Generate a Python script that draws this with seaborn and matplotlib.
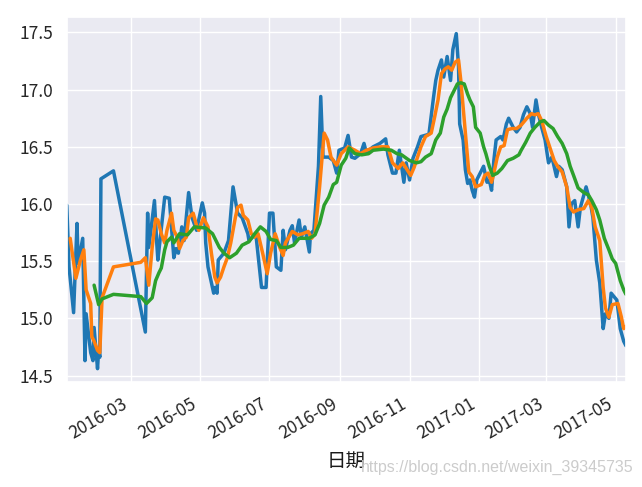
import pandas as pd
import matplotlib
matplotlib.use("Agg")
import matplotlib.pyplot as plt
import matplotlib.dates as mdates
import seaborn as sns

# 收盘价 (blue)
close_dates = [
    "2016-01-05", "2016-01-07", "2016-01-11", "2016-01-14", "2016-01-15", "2016-01-19", "2016-01-21",
    "2016-01-22", "2016-01-26", "2016-01-28", "2016-01-29",
    "2016-02-01", "2016-02-02", "2016-02-03", "2016-02-04", "2016-02-15",
    "2016-03-14", "2016-03-16", "2016-03-17", "2016-03-22", "2016-03-24", "2016-03-25", "2016-03-31",
    "2016-04-04", "2016-04-08", "2016-04-10", "2016-04-12", "2016-04-15", "2016-04-17", "2016-04-21",
    "2016-04-24", "2016-04-28",
    "2016-05-03", "2016-05-05", "2016-05-06", "2016-05-08", "2016-05-13", "2016-05-14", "2016-05-16",
    "2016-05-17", "2016-05-22", "2016-05-26", "2016-05-30",
    "2016-06-03", "2016-06-07", "2016-06-12", "2016-06-13", "2016-06-16", "2016-06-19", "2016-06-24",
    "2016-06-28",
    "2016-07-01", "2016-07-04", "2016-07-07", "2016-07-11", "2016-07-13", "2016-07-15", "2016-07-19",
    "2016-07-21", "2016-07-23", "2016-07-27", "2016-07-29",
    "2016-08-01", "2016-08-05", "2016-08-06", "2016-08-09", "2016-08-13", "2016-08-15", "2016-08-17",
    "2016-08-22", "2016-08-26", "2016-08-29", "2016-08-31",
    "2016-09-05", "2016-09-08", "2016-09-11", "2016-09-14", "2016-09-19", "2016-09-22", "2016-09-24",
    "2016-09-30",
    "2016-10-06", "2016-10-11", "2016-10-13", "2016-10-17", "2016-10-20", "2016-10-23", "2016-10-27",
    "2016-10-29",
    "2016-11-01", "2016-11-04", "2016-11-08", "2016-11-11", "2016-11-18", "2016-11-22", "2016-11-24",
    "2016-11-26", "2016-11-29",
    "2016-12-01", "2016-12-04", "2016-12-07", "2016-12-09", "2016-12-12", "2016-12-14", "2016-12-15",
    "2016-12-18", "2016-12-20", "2016-12-22", "2016-12-24", "2016-12-26", "2016-12-28", "2016-12-30",
    "2017-01-05", "2017-01-08", "2017-01-10", "2017-01-12", "2017-01-14", "2017-01-16", "2017-01-20",
    "2017-01-22", "2017-01-25", "2017-01-27", "2017-01-31",
    "2017-02-03", "2017-02-06", "2017-02-09", "2017-02-12", "2017-02-15", "2017-02-17", "2017-02-20",
    "2017-02-22", "2017-02-25", "2017-02-28",
    "2017-03-03", "2017-03-06", "2017-03-10", "2017-03-12", "2017-03-15", "2017-03-19", "2017-03-21",
    "2017-03-23", "2017-03-26", "2017-03-29", "2017-03-31",
    "2017-04-05", "2017-04-09", "2017-04-11", "2017-04-14", "2017-04-17", "2017-04-20", "2017-04-22",
    "2017-04-25", "2017-04-27",
    "2017-05-02", "2017-05-05", "2017-05-08", "2017-05-10",
]
close_vals = [
    15.99, 15.45, 15.05, 15.83, 15.48, 15.70, 14.63, 15.04, 14.70, 14.63, 14.92,
    14.56, 14.72, 14.66, 16.22, 16.29,
    14.88, 15.92, 15.62, 16.03, 15.66, 15.51, 16.06,
    16.05, 15.53, 15.61, 15.57, 15.80, 15.68, 16.10, 15.88, 15.77,
    16.01, 15.92, 15.66, 15.45, 15.22, 15.27, 15.22, 15.51, 15.57, 15.68, 16.15,
    15.92, 15.88, 15.74, 15.68, 15.71, 15.74, 15.27, 15.27,
    15.92, 15.92, 15.45, 15.42, 15.77, 15.60, 15.77, 15.81, 15.66, 15.86, 15.71,
    15.80, 15.58, 15.74, 15.77, 16.33, 16.94, 16.41, 16.41, 16.38, 16.27, 16.47,
    16.49, 16.60, 16.41, 16.40, 16.44, 16.53, 16.45, 16.50,
    16.53, 16.57, 16.43, 16.27, 16.27, 16.47, 16.19, 16.36,
    16.21, 16.40, 16.50, 16.59, 16.61, 16.93, 17.08, 17.17, 17.26,
    17.11, 17.29, 17.08, 17.35, 17.49, 17.20, 16.70, 16.56, 16.30, 16.18, 16.21, 16.12, 16.06, 16.21,
    16.33, 16.19, 16.21, 16.12, 16.38, 16.56, 16.59, 16.56, 16.70, 16.75, 16.67,
    16.63, 16.67, 16.78, 16.85, 16.79, 16.67, 16.91, 16.79, 16.67, 16.56,
    16.36, 16.41, 16.24, 16.33, 16.30, 16.15, 15.80, 16.00, 16.03, 15.80, 15.97,
    16.15, 16.00, 15.88, 15.51, 15.31, 14.91, 15.04, 15.00, 15.22,
    15.16, 14.91, 14.80, 14.76,
]

# 5日均线 (orange)
ma5_dates = [
    "2016-01-08", "2016-01-13", "2016-01-17", "2016-01-20", "2016-01-22", "2016-01-26", "2016-01-27",
    "2016-01-29",
    "2016-02-01", "2016-02-03", "2016-02-05", "2016-02-15",
    "2016-03-10", "2016-03-14", "2016-03-17", "2016-03-20", "2016-03-23", "2016-03-25", "2016-03-28",
    "2016-03-31",
    "2016-04-02", "2016-04-06", "2016-04-08", "2016-04-11", "2016-04-13", "2016-04-16", "2016-04-19",
    "2016-04-21", "2016-04-25", "2016-04-28", "2016-04-30",
    "2016-05-04", "2016-05-08", "2016-05-11", "2016-05-14", "2016-05-16", "2016-05-19", "2016-05-22",
    "2016-05-25", "2016-05-28",
    "2016-06-01", "2016-06-03", "2016-06-06", "2016-06-08", "2016-06-12", "2016-06-15", "2016-06-18",
    "2016-06-21", "2016-06-25", "2016-06-29",
    "2016-07-02", "2016-07-06", "2016-07-10", "2016-07-13", "2016-07-15", "2016-07-21", "2016-07-26",
    "2016-07-30",
    "2016-08-04", "2016-08-07", "2016-08-10", "2016-08-14", "2016-08-18", "2016-08-21", "2016-08-24",
    "2016-08-29",
    "2016-09-02", "2016-09-08", "2016-09-14", "2016-09-19", "2016-09-24", "2016-09-30",
    "2016-10-07", "2016-10-13", "2016-10-17", "2016-10-22", "2016-10-26",
    "2016-11-02", "2016-11-05", "2016-11-08", "2016-11-11", "2016-11-15", "2016-11-20", "2016-11-23",
    "2016-11-26", "2016-11-29",
    "2016-12-02", "2016-12-05", "2016-12-08", "2016-12-11", "2016-12-14", "2016-12-16", "2016-12-18",
    "2016-12-21", "2016-12-23", "2016-12-26", "2016-12-29",
    "2017-01-03", "2017-01-06", "2017-01-09", "2017-01-12", "2017-01-14", "2017-01-17", "2017-01-20",
    "2017-01-23", "2017-01-26", "2017-01-30",
    "2017-02-03", "2017-02-07", "2017-02-12", "2017-02-16", "2017-02-19", "2017-02-22", "2017-02-25",
    "2017-03-01", "2017-03-05", "2017-03-08", "2017-03-11", "2017-03-15", "2017-03-19", "2017-03-22",
    "2017-03-25", "2017-03-29",
    "2017-04-03", "2017-04-07", "2017-04-10", "2017-04-13", "2017-04-17", "2017-04-20", "2017-04-22",
    "2017-04-25", "2017-04-28",
    "2017-05-03", "2017-05-06", "2017-05-08", "2017-05-10",
]
ma5_vals = [
    15.70, 15.35, 15.51, 15.60, 15.25, 15.13, 14.84, 14.80,
    14.72, 14.70, 15.18, 15.45,
    15.49, 15.53, 15.29, 15.62, 15.87, 15.86, 15.74, 15.66,
    15.77, 15.92, 15.77, 15.71, 15.61, 15.68, 15.71, 15.88, 15.92, 15.81, 15.77,
    15.88, 15.80, 15.57, 15.36, 15.31, 15.36, 15.45, 15.53, 15.66,
    15.88, 15.97, 15.99, 15.90, 15.86, 15.74, 15.71, 15.74, 15.57, 15.39,
    15.57, 15.74, 15.62, 15.55, 15.66, 15.76, 15.73, 15.74,
    15.76, 15.70, 15.74, 16.15, 16.62, 16.56, 16.41, 16.34,
    16.44, 16.50, 16.47, 16.44, 16.47, 16.49,
    16.50, 16.50, 16.36, 16.31, 16.36,
    16.25, 16.32, 16.41, 16.50, 16.59, 16.62, 16.76, 16.91, 17.14,
    17.18, 17.20, 17.17, 17.24, 17.26, 17.08, 16.85, 16.50, 16.28, 16.24, 16.15,
    16.17, 16.25, 16.27, 16.19, 16.27, 16.41, 16.50, 16.51, 16.65, 16.66,
    16.66, 16.69, 16.75, 16.79, 16.78, 16.79, 16.73,
    16.59, 16.47, 16.38, 16.33, 16.28, 16.15, 15.97, 15.93, 15.95,
    15.96, 16.03, 15.97, 15.80, 15.68, 15.27, 15.09, 15.01, 15.12,
    15.13, 15.01, 14.91, 14.93,
]

# 20日均线 (green)
ma20_dates = [
    "2016-01-29",
    "2016-02-02", "2016-02-05", "2016-02-15",
    "2016-03-10", "2016-03-15", "2016-03-20", "2016-03-23", "2016-03-26", "2016-03-28", "2016-03-31",
    "2016-04-02", "2016-04-06", "2016-04-08", "2016-04-13", "2016-04-20", "2016-04-26",
    "2016-05-06", "2016-05-12", "2016-05-18", "2016-05-22", "2016-05-27",
    "2016-06-02", "2016-06-07", "2016-06-13", "2016-06-18", "2016-06-23", "2016-06-28",
    "2016-07-02", "2016-07-07", "2016-07-11", "2016-07-17", "2016-07-22", "2016-07-27",
    "2016-08-01", "2016-08-05", "2016-08-10", "2016-08-14", "2016-08-18", "2016-08-22", "2016-08-26",
    "2016-08-29",
    "2016-09-02", "2016-09-06", "2016-09-09", "2016-09-14", "2016-09-20", "2016-09-26", "2016-09-30",
    "2016-10-09", "2016-10-16", "2016-10-21", "2016-10-25",
    "2016-11-01", "2016-11-07", "2016-11-11", "2016-11-15", "2016-11-20", "2016-11-24", "2016-11-28",
    "2016-12-01", "2016-12-04", "2016-12-07", "2016-12-10", "2016-12-13", "2016-12-16", "2016-12-19",
    "2016-12-22", "2016-12-24", "2016-12-27", "2016-12-29",
    "2017-01-02", "2017-01-05", "2017-01-07", "2017-01-10", "2017-01-13", "2017-01-17", "2017-01-21",
    "2017-01-26", "2017-01-31",
    "2017-02-05", "2017-02-07", "2017-02-11", "2017-02-15", "2017-02-19", "2017-02-24", "2017-02-27",
    "2017-03-03", "2017-03-07", "2017-03-11", "2017-03-15", "2017-03-19", "2017-03-22", "2017-03-25",
    "2017-03-29",
    "2017-04-03", "2017-04-07", "2017-04-10", "2017-04-14", "2017-04-17", "2017-04-21", "2017-04-25",
    "2017-04-28",
    "2017-05-01", "2017-05-05", "2017-05-08", "2017-05-10",
]
ma20_vals = [
    15.29,
    15.12, 15.17, 15.21,
    15.19, 15.13, 15.18, 15.33, 15.40, 15.44, 15.60,
    15.67, 15.71, 15.66, 15.74, 15.73, 15.80,
    15.79, 15.74, 15.62, 15.57, 15.53,
    15.57, 15.64, 15.67, 15.74, 15.80, 15.76,
    15.69, 15.68, 15.62, 15.62, 15.64, 15.70,
    15.70, 15.70, 15.73, 15.83, 15.99, 16.06, 16.17, 16.19,
    16.34, 16.40, 16.49, 16.44, 16.43, 16.44, 16.47,
    16.48, 16.47, 16.44, 16.43,
    16.38, 16.36, 16.37, 16.41, 16.44, 16.56, 16.62,
    16.76, 16.83, 16.93, 16.99, 17.05, 17.06, 17.05, 16.96, 16.91, 16.85, 16.67,
    16.62, 16.50, 16.44, 16.33, 16.25, 16.27, 16.31, 16.38, 16.40,
    16.43, 16.47, 16.54, 16.62, 16.67, 16.72, 16.73,
    16.69, 16.66, 16.59, 16.53, 16.44, 16.33, 16.25, 16.14,
    16.10, 16.08, 16.03, 15.95, 15.86, 15.70, 15.60, 15.52,
    15.48, 15.33, 15.25, 15.21,
]

sns.set_theme(style="darkgrid")
plt.rcParams['font.family'] = ['Noto Sans CJK SC', 'DejaVu Sans']
plt.rcParams['axes.unicode_minus'] = False

fig, ax = plt.subplots(figsize=(6.42, 4.87), dpi=100)
fig.subplots_adjust(left=0.104, right=0.975, top=0.965, bottom=0.216)

series = [(close_dates, close_vals, "#1f77b4"),
          (ma5_dates, ma5_vals, "#ff7f0e"),
          (ma20_dates, ma20_vals, "#2ca02c")]
for d, v, c in series:
    df = pd.DataFrame({"日期": pd.to_datetime(d), "价格": v})
    sns.lineplot(data=df, x="日期", y="价格", ax=ax, color=c, linewidth=2.5)

ax.set_xlim(pd.Timestamp(close_dates[0]), pd.Timestamp(close_dates[-1]))
ax.set_ylim(14.445, 17.635)
ax.xaxis.set_major_locator(mdates.MonthLocator(bymonth=[1, 3, 5, 7, 9, 11]))
ax.xaxis.set_major_formatter(mdates.DateFormatter("%Y-%m"))
ax.tick_params(labelsize=12.5)
plt.setp(ax.get_xticklabels(), rotation=30, ha="right")
ax.set_ylabel("")
ax.set_xlabel("日期", fontsize=14, color="#1a1a1a", labelpad=6)

fig.text(0.986, 0.041, "https://blog.csdn.net/weixin_39345735", ha="right", va="center",
         fontsize=11.5, color="#cccccc", family=["Liberation Sans", "DejaVu Sans"])

fig.savefig("out.png", dpi=100)
